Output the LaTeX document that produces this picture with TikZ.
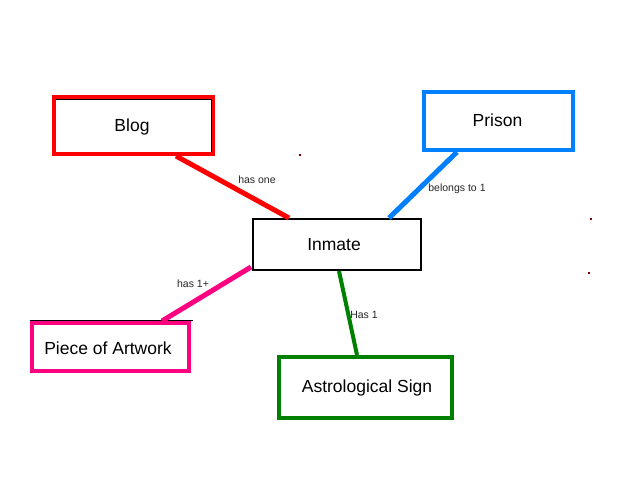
\documentclass[tikz,border=0pt]{standalone}
\usepackage{fontspec}
\setmainfont{Liberation Sans}
\definecolor{cred}{RGB}{255,0,0}
\definecolor{cblue}{RGB}{0,128,255}
\definecolor{cmag}{RGB}{255,0,128}
\definecolor{cgreen}{RGB}{0,128,0}
\definecolor{cdot}{RGB}{128,0,0}
\begin{document}
\begin{tikzpicture}[x=1pt,y=-1pt,
  box/.style={draw,rectangle,line width=4pt,inner sep=0pt},
  txt/.style={font=\fontsize{17.5}{20}\selectfont,inner sep=0pt},
  conn/.style={line width=5pt},
  lbl/.style={font=\fontsize{10.5}{12}\selectfont,text=black!85,inner sep=0pt}]
\useasboundingbox[fill=white] (0,0) rectangle (640,480);
\node[box,draw=cred,minimum width=159pt,minimum height=57pt] (blog) at (133.5,125.5) {};
\node[box,draw=cblue,minimum width=149pt,minimum height=58pt] (prison) at (498.5,121) {};
\node[box,draw=black,line width=2pt,minimum width=168pt,minimum height=51pt] (inmate) at (337,244.5) {};
\node[box,draw=cmag,minimum width=157pt,minimum height=48pt] (art) at (110.5,347) {};
\node[box,draw=cgreen,minimum width=173pt,minimum height=61pt] (astro) at (365.5,387.5) {};
\node[txt] (tblog) at (132,126.5) {Blog};
\node[txt] (tprison) at (497.5,120.5) {Prison};
\node[txt] (tinmate) at (334,245) {Inmate};
\node[txt] (tart) at (108,348) {Piece of Artwork};
\node[txt] (tastro) at (367,388) {Astrological Sign};
\draw[line width=1pt] ([xshift=4pt,yshift=-4pt]blog.north west) -- ([xshift=-3.5pt,yshift=-4pt]blog.north east) -- ([xshift=-3.5pt,yshift=4pt]blog.south east);
\draw[line width=1pt] ([yshift=0.5pt]art.north west) -- ([xshift=1.5pt,yshift=0.5pt]art.north east);
\draw[conn,cred] ([xshift=124pt]blog.south west) -- ([xshift=37pt]inmate.north west);
\draw[conn,cblue] ([xshift=35pt]prison.south west) -- ([xshift=137pt]inmate.north west);
\draw[conn,cmag] ([xshift=-1pt,yshift=4pt]inmate.south west) -- ([xshift=132pt]art.north west);
\draw[conn,cgreen,line width=4pt] ([xshift=87pt]inmate.south west) -- ([xshift=80pt]astro.north west);
\node[lbl] (l1) at (257,180) {has one};
\node[lbl] (l2) at (457,189) {belongs to 1};
\node[lbl] (l3) at (193,284) {has 1+};
\node[lbl] (l4) at (364,315) {Has 1};
\fill[cdot] (299,154) rectangle (301,156);
\fill[cdot] (590,218) rectangle (592,220);
\fill[cdot] (588,272) rectangle (590,274);
\end{tikzpicture}
\end{document}
